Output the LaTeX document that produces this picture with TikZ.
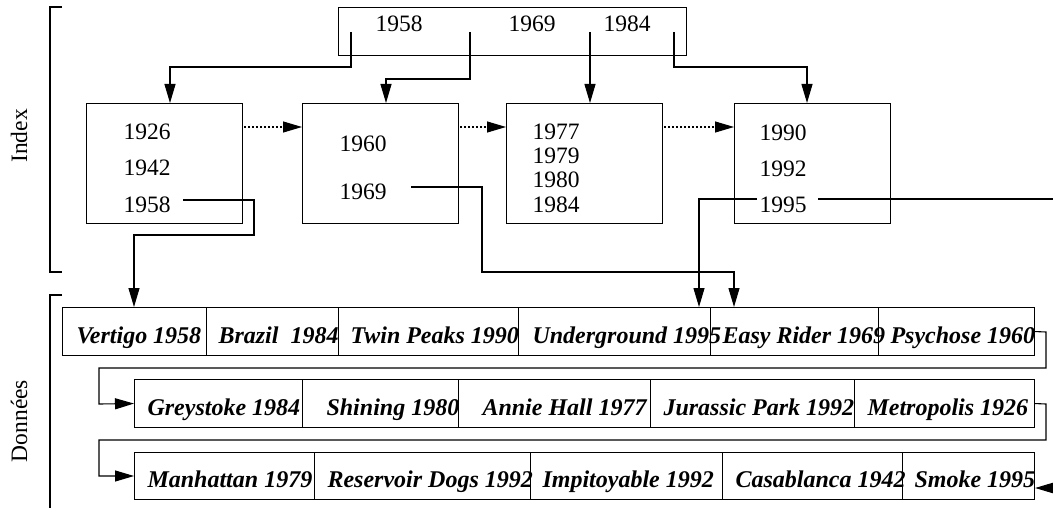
\documentclass[tikz,border=0pt]{standalone}
\usepackage{fontspec}
\setmainfont{Liberation Serif}
\usetikzlibrary{arrows.meta}
\begin{document}
\begin{tikzpicture}[x=1pt,y=-1pt,line width=1.1pt,
  every node/.style={font=\fontsize{23.5}{28}\selectfont, inner sep=0pt},
  box/.style={draw, rectangle, anchor=north west},
  key/.style={anchor=base west},
  film/.style={anchor=base west, font=\fontsize{24}{28}\selectfont\bfseries\itshape},
  ptr/.style={-{Triangle[length=19pt,width=11pt]}},
  link/.style={ptr, dash pattern=on 2pt off 2pt},
  ]
\useasboundingbox (0,0) rectangle (1053,508);

% brackets and side labels
\draw (62,7) -- (50,7) -- (50,272) -- (62,272);
\draw (62,295) -- (50,295) -- (50,508);
\node[rotate=90] (lidx) at (19,136) {Index};
\node[rotate=90] (ldon) at (19,421) {Données};

% root of the index
\node[box, minimum width=348, minimum height=48] (root) at (338,7) {};
\node[key] (k58) at (375,32) {1958};
\node[key] (k69) at (508,32) {1969};
\node[key] (k84) at (603,32) {1984};
\coordinate (p1) at (351,32);
\coordinate (p2) at (470,32);
\coordinate (p3) at (590,32);
\coordinate (p4) at (674,32);

% leaves of the index
\node[box, minimum width=156, minimum height=120] (b1) at (86,103) {};
\node[box, minimum width=156, minimum height=120] (b2) at (302,103) {};
\node[box, minimum width=156, minimum height=120] (b3) at (506,103) {};
\node[box, minimum width=156, minimum height=120] (b4) at (734,103) {};

\node[key] (a1926) at (123,140) {1926};
\node[key] (a1942) at (123,176) {1942};
\node[key] (a1958) at (123,212) {1958};
\node[key] (a1960) at (339,152) {1960};
\node[key] (a1969) at (339,200) {1969};
\node[key] (a1977) at (532,140) {1977};
\node[key] (a1979) at (532,164) {1979};
\node[key] (a1980) at (532,188) {1980};
\node[key] (a1984) at (532,212) {1984};
\node[key] (a1990) at (759,141) {1990};
\node[key] (a1992) at (759,177) {1992};
\node[key] (a1995) at (759,212) {1995};

% data rows
\foreach \a/\b [count=\i] in {62/206,206/338,338/518,518/710,710/878,878/1034}
  \node[box, minimum width={\b-\a}, minimum height=48] (r1c\i) at (\a,307) {};
\foreach \a/\b [count=\i] in {134/302,302/458,458/650,650/854,854/1034}
  \node[box, minimum width={\b-\a}, minimum height=48] (r2c\i) at (\a,379) {};
\foreach \a/\b [count=\i] in {134/314,314/530,530/722,722/902,902/1034}
  \node[box, minimum width={\b-\a}, minimum height=47] (r3c\i) at (\a,452) {};

\node[film] (f1) at (76,343) {Vertigo 1958};
\node[film] (f2) at (218,343) {Brazil~~1984};
\node[film] (f3) at (350,343) {Twin Peaks 1990};
\node[film] (f4) at (532,343) {Underground 1995};
\node[film] (f5) at (722,343) {Easy Rider 1969};
\node[film] (f6) at (890,343) {Psychose 1960};
\node[film] (f7) at (147,415) {Greystoke 1984};
\node[film] (f8) at (326,415) {Shining 1980};
\node[film] (f9) at (482,415) {Annie Hall 1977};
\node[film] (f10) at (663,415) {Jurassic Park 1992};
\node[film] (f11) at (867,415) {Metropolis 1926};
\node[film] (f12) at (147,487) {Manhattan 1979};
\node[film] (f13) at (327,487) {Reservoir Dogs 1992};
\node[film] (f14) at (542,487) {Impitoyable 1992};
\node[film] (f15) at (735,487) {Casablanca 1942};
\node[film] (f16) at (914,487) {Smoke 1995};

% root pointers
\draw[ptr] (p1) |- (170,67) -- (170,0 |- b1.north);
\draw[ptr] (p2) |- (386,79) -- (386,0 |- b2.north);
\draw[ptr] (p3) -- (p3 |- b3.north);
\draw[ptr] (p4) |- (807,67) -- (807,0 |- b4.north);

% sibling links
\draw[link] (244,127) -- (b2.west |- 0,127);
\draw[link] (460,127) -- (b3.west |- 0,127);
\draw[link] (664,127) -- (b4.west |- 0,127);

% pointers into the data
\coordinate (q1958) at (183,200);
\coordinate (q1969) at (411,187);
\coordinate (q1995l) at (757,199);
\coordinate (q1995r) at (818,199);
\coordinate (qout) at (1053,199);
\coordinate (qin) at (1053,488);
\draw[ptr] (q1958) -- (254,200) -- (254,235) -- (134,235) -- (134,0 |- r1c1.north);
\draw[ptr] (q1969) -- (482,187) -- (482,272) -- (734,272) -- (734,0 |- r1c5.north);
\draw[ptr] (q1995l) -- (699,199) -- (699,0 |- r1c4.north);
\draw (q1995r) -- (qout);
\draw[ptr] (qin) -- (r3c5.east |- qin);

% chaining of the rows
\draw[ptr] (r1c6.east) -- (1046,332) -- (1046,368) -- (99,368) -- (99,404) -- (r2c1.west);
\draw[ptr] (r2c5.east) -- (1046,404) -- (1046,440) -- (99,440) -- (99,476) -- (r3c1.west |- 0,476);
\end{tikzpicture}
\end{document}
